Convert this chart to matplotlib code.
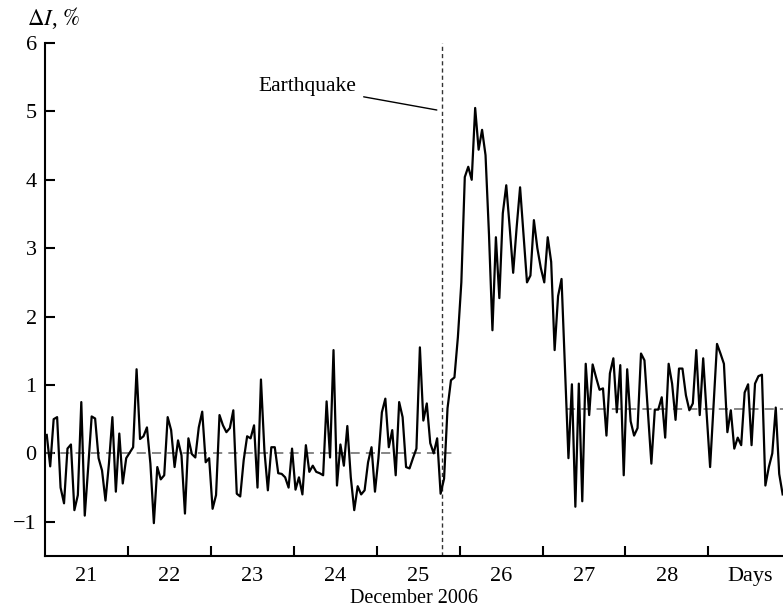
import numpy as np
import matplotlib
matplotlib.use("Agg")
from matplotlib import pyplot as plt
from matplotlib.ticker import FixedLocator, NullFormatter, FixedFormatter

plt.rcParams['font.family'] = ['Liberation Serif', 'DejaVu Serif']
plt.rcParams['mathtext.fontset'] = 'stix'
plt.rcParams['axes.unicode_minus'] = True

# hourly values of Delta I (%), 21-29 December 2006
dI = [0.27, -0.19, 0.5, 0.53, -0.5, -0.73, 0.07, 0.13, -0.83, -0.61,
      0.75, -0.91, -0.2, 0.54, 0.51, -0.07, -0.25, -0.69, -0.15, 0.53,
      -0.56, 0.29, -0.44, -0.07, 0.01, 0.09, 1.23, 0.21, 0.25, 0.38,
      -0.15, -1.02, -0.2, -0.38, -0.32, 0.53,
      0.34, -0.2, 0.19, -0.03, -0.88, 0.22, -0.01, -0.06, 0.38, 0.61,
      -0.13, -0.07, -0.81, -0.61, 0.56, 0.41, 0.31, 0.37, 0.63, -0.59,
      -0.63, -0.1, 0.25, 0.22, 0.41, -0.5, 1.08, 0.04, -0.54, 0.09,
      0.09, -0.29, -0.3, -0.35, -0.5,
      0.07, -0.53, -0.35, -0.6, 0.12, -0.27, -0.18, -0.27, -0.29, -0.32,
      0.76, -0.06, 1.51, -0.47, 0.13, -0.18, 0.4, -0.35, -0.83, -0.48,
      -0.6, -0.54, -0.13, 0.09, -0.56, -0.07, 0.6, 0.8, 0.09, 0.34,
      -0.32, 0.75, 0.53, -0.2, -0.22, -0.07,
      0.07, 1.55, 0.48, 0.73, 0.15, 0.0, 0.22, -0.59, -0.37, 0.66,
      1.07, 1.11, 1.7, 2.5, 4.04, 4.19, 4.0, 5.05, 4.44, 4.73,
      4.36, 3.2, 1.8, 3.16, 2.27, 3.51, 3.92, 3.3, 2.64, 3.3,
      3.89, 3.2, 2.5, 2.6, 3.41, 3.0, 2.71, 2.5, 3.16, 2.8,
      1.51, 2.3, 2.55, 1.25, -0.07, 1.01, -0.78, 1.02, -0.7, 1.31,
      0.56, 1.3, 1.11, 0.93, 0.95, 0.26, 1.17, 1.39, 0.6, 1.29,
      -0.32, 1.23, 0.47, 0.26, 0.37, 1.46, 1.36, 0.6, -0.15, 0.64,
      0.64, 0.82, 0.23, 1.31, 1.02, 0.49, 1.24, 1.24, 0.85, 0.63,
      0.73, 1.51, 0.56, 1.39, 0.58, -0.2, 0.7, 1.6, 1.46, 1.31,
      0.31, 0.63, 0.07, 0.23, 0.12, 0.89, 1.01, 0.12, 1.02, 1.13,
      1.15, -0.47, -0.2, 0.0, 0.67, -0.3, -0.6]
start_day = 21.0
days = start_day + (np.arange(len(dI)) + 0.5) / 24.0

quake_day = 25.79
level_before = 0.0
level_after = 0.65
before_end = 25.925
after_start = 27.285

day_labels = ['21', '22', '23', '24', '25', '26', '27', '28', 'Days']

fig = plt.figure(figsize=(7.83, 6.14), dpi=100)
ax = fig.add_axes([0.0575, 0.0945, 0.9425, 0.8355])

ax.plot(days, dI, color='black', lw=1.6, zorder=3)
ax.axvline(quake_day, color='#333333', lw=1.0, ls=(0, (3, 2.2)), zorder=2)
ax.plot([21.0, before_end], [level_before, level_before], color='#666666',
        lw=1.1, ls=(0, (6, 4)), zorder=2)
ax.plot([after_start, 29.9], [level_after, level_after], color='#666666',
        lw=1.1, ls=(0, (6, 4)), zorder=2)

ax.annotate('Earthquake', xy=(25.725, 5.02), xytext=(24.76, 5.36),
            ha='right', va='center', fontsize=15.5,
            arrowprops=dict(arrowstyle='-', color='black', lw=1.0,
                            shrinkA=3, shrinkB=0))

ax.set_xlim(21.0, 29.9)
ax.set_ylim(-1.5, 6)

ax.xaxis.set_major_locator(FixedLocator(range(22, 30)))
ax.xaxis.set_major_formatter(NullFormatter())
ax.xaxis.set_minor_locator(FixedLocator([d + 0.5 for d in range(21, 30)]))
ax.xaxis.set_minor_formatter(FixedFormatter(day_labels))
ax.tick_params(axis='x', which='major', direction='in', length=7, width=1.5)
ax.tick_params(axis='x', which='minor', length=0, pad=8, labelsize=16)

ax.set_yticks(range(-1, 7))
ax.tick_params(axis='y', direction='in', length=7, width=1.5, pad=6,
               labelsize=16)

for s in ['top', 'right']:
    ax.spines[s].set_visible(False)
for s in ['left', 'bottom']:
    ax.spines[s].set_linewidth(1.5)

fig.text(0.529, 0.026, 'December 2006', fontsize=14.5, ha='center',
         va='center')
fig.text(0.034, 0.97, r'$\Delta I$, $\mathit{\%}$', fontsize=16.5,
         ha='left', va='center')

fig.savefig('out.png', dpi=100)
